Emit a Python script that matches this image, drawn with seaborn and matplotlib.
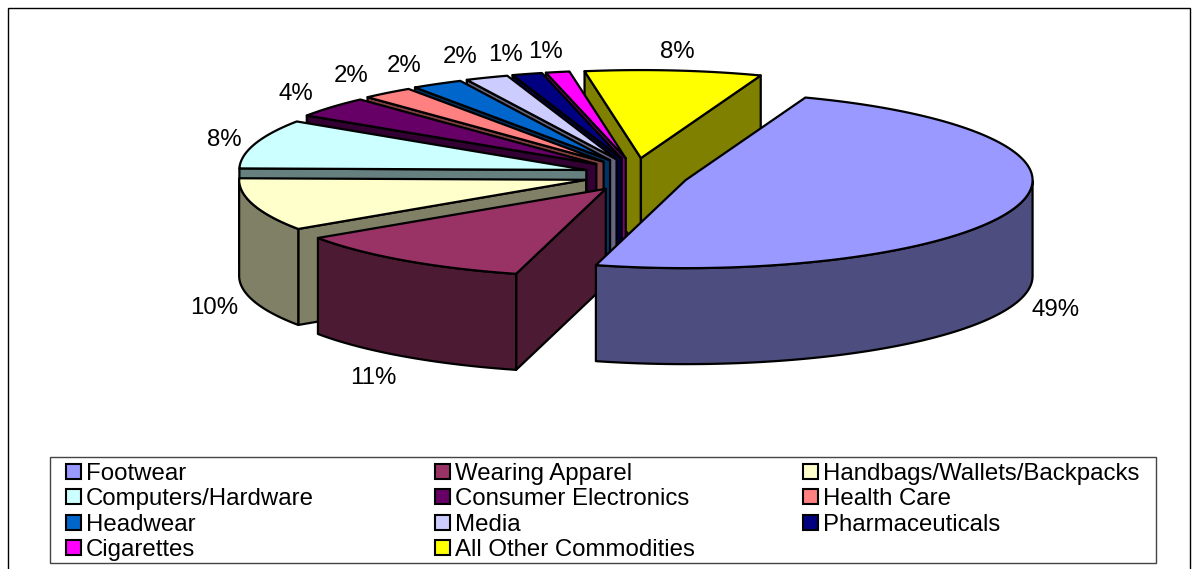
import numpy as np
import seaborn as sns
from matplotlib import pyplot as plt
from matplotlib.colors import to_rgb
from matplotlib.patches import Polygon, Rectangle

## Data (slice sizes, labels as printed on the chart)
categories = ['Footwear', 'Wearing Apparel', 'Handbags/Wallets/Backpacks',
              'Computers/Hardware', 'Consumer Electronics', 'Health Care',
              'Headwear', 'Media', 'Pharmaceuticals', 'Cigarettes',
              'All Other Commodities']
values = [48.5, 11.4, 9.7, 9.0, 3.8, 2.4, 2.4, 2.0, 1.4, 1.1, 8.2]
pct_labels = ['49%', '11%', '10%', '8%', '4%', '2%', '2%', '2%', '1%', '1%', '8%']
top_colours = ['#9999FF', '#993366', '#FFFFCC', '#CCFFFF', '#660066', '#FF8080',
               '#0066CC', '#CCCCFF', '#000080', '#FF00FF', '#FFFF00']

## Pie geometry, in pixels of the figure
CX, CY = 636, 175      # centre before the slices are pulled out
RX, RY = 347, 88       # ellipse of the top face
EX, EY = 52, 17        # how far each slice is pulled out
DEPTH = 96
START = 69.8           # degrees, goes clockwise
LW = 1.6
FONT = 17.3

# Small shifts so the percentages sit where the original put them
label_nudge = [(-4, 1), (-5, 5), (4, 2), (12, 2), (-1, 0), (-8, -1),
               (-11, -1), (-10, -2), (-9, 0), (-3, 0), (-1, 1)]

sns.set_theme(style='white')
plt.rcParams['font.family'] = ['Liberation Sans', 'DejaVu Sans']
palette = sns.color_palette(top_colours)
side_colours = [tuple(c * 0.5 for c in to_rgb(col)) for col in palette]

fig, ax = plt.subplots(figsize=(11.98, 5.69), dpi=100)
ax.set_position([0, 0, 1, 1])
ax.set_xlim(0, 1198)
ax.set_ylim(569, 0)
ax.axis('off')


def rim(apex, t):
    t = np.radians(t)
    return np.column_stack([apex[0] + RX * np.cos(t), apex[1] - RY * np.sin(t)])


def face(points, colour, z):
    ax.add_patch(Polygon(points, closed=True, facecolor=colour, edgecolor='black',
                         linewidth=LW, joinstyle='round', zorder=z))


shares = 360 * np.array(values) / sum(values)
ends = START - np.cumsum(shares)
starts = ends + shares
mids = (starts + ends) / 2

# Back to front is the reverse of the data order here
for z, i in enumerate(range(len(values) - 1, -1, -1)):
    m = np.radians(mids[i])
    apex = (CX + EX * np.cos(m), CY - EY * np.sin(m))
    drop = np.array([0, DEPTH])

    # Cut faces, only the ones turned towards the viewer
    for t, side in ((starts[i], -1), (ends[i], 1)):
        if side * np.cos(np.radians(t)) > 0:
            p = rim(apex, np.array([t]))[0]
            face([apex, p, p + drop, np.array(apex) + drop], side_colours[i], z * 3 + 1)

    # Outer wall, only on the front half of the ellipse
    arc_t = np.linspace(starts[i], ends[i], 200)
    visible = arc_t[np.sin(np.radians(arc_t)) <= 0]
    if len(visible) > 1:
        arc = rim(apex, visible)
        face(np.vstack([arc, arc[::-1] + drop]), side_colours[i], z * 3 + 2)

    # Top
    face(np.vstack([[apex], rim(apex, arc_t)]), palette[i], z * 3 + 3)

    # Percentage label
    p = rim(apex, np.array([mids[i]]))[0]
    lx = p[0] + 45 * np.cos(m) + label_nudge[i][0]
    ly = p[1] - 20 * np.sin(m) + (DEPTH if np.sin(m) < 0 else 0) + label_nudge[i][1]
    ax.text(lx, ly, pct_labels[i], fontsize=FONT, color='black',
            ha='center', va='center', zorder=100)

## Outer frame runs off the bottom of the picture
ax.add_patch(Rectangle((8, 8), 1182, 580, facecolor='none', edgecolor='black',
                       linewidth=1.0, zorder=0))

## Legend, filled row by row
ax.add_patch(Rectangle((50, 457), 1106, 106, facecolor='white', edgecolor='#444444',
                       linewidth=1.0, zorder=200))
col_x = [65, 434, 802]
for i, name in enumerate(categories):
    row, col = divmod(i, 3)
    y = 471.5 + row * 25.3
    ax.add_patch(Rectangle((col_x[col] + 0.5, y - 7.5), 15, 15, facecolor=palette[i],
                           edgecolor='black', linewidth=1.5, zorder=201))
    ax.text(col_x[col] + 21, y, name, fontsize=FONT, color='black', ha='left',
            va='center_baseline', zorder=201)

fig.savefig('out.png', dpi=100)
